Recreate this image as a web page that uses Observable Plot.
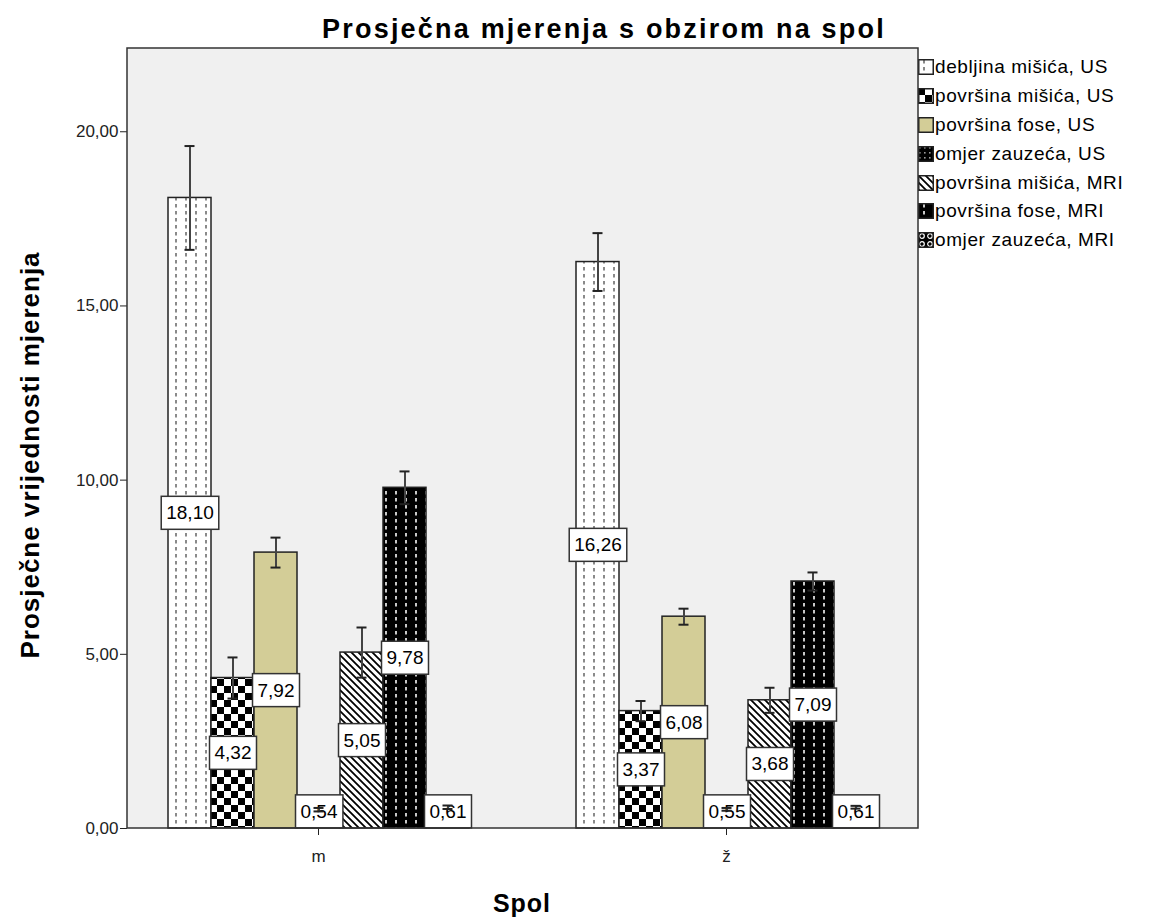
<!DOCTYPE html>
<html><head><meta charset="utf-8">
<script src="https://cdn.jsdelivr.net/npm/d3@7"></script>
<script src="https://cdn.jsdelivr.net/npm/@observablehq/plot@0.6"></script>
<style>
body{margin:0;background:#fff;font-family:"Liberation Sans",Arial,sans-serif;}
#wrap{position:relative;width:1157px;height:920px;overflow:hidden;background:#fff;}
#wrap > svg{position:absolute;left:0;top:0;}
#title{position:absolute;left:204px;width:800px;top:12px;line-height:34px;text-align:center;font-weight:bold;font-size:27px;letter-spacing:2.2px;color:#000;}
#ylab{position:absolute;left:-220px;width:500px;top:440px;height:30px;line-height:30px;text-align:center;transform:rotate(-90deg);font-weight:bold;font-size:26px;letter-spacing:1px;color:#000;}
#xlab{position:absolute;left:422px;width:200px;top:887px;line-height:32px;text-align:center;font-weight:bold;font-size:25px;letter-spacing:1px;color:#000;}
#legend{position:absolute;left:918px;top:53px;font-size:19px;letter-spacing:0.6px;color:#000;}
.lrow{display:flex;align-items:center;height:28.8px;}
.lrow svg{margin-right:1px;flex:none;}
</style></head><body>
<svg width="0" height="0" style="position:absolute">
<defs>
<pattern id="p0" patternUnits="userSpaceOnUse" width="10" height="7"><rect width="10" height="7" fill="#fff"/><rect x="5" y="1" width="2" height="3.5" fill="#8a8a8a"/></pattern>
<pattern id="p1" patternUnits="userSpaceOnUse" width="14" height="14"><rect width="14" height="14" fill="#fff"/><rect width="7" height="7" fill="#000"/><rect x="7" y="7" width="7" height="7" fill="#000"/></pattern>
<pattern id="p3" patternUnits="userSpaceOnUse" width="5" height="5"><rect width="5" height="5" fill="#000"/><rect x="1" y="1" width="1.6" height="1.6" fill="#999"/></pattern>
<pattern id="p4" patternUnits="userSpaceOnUse" width="7" height="7"><rect width="7" height="7" fill="#fff"/><path d="M0,0L7,7M-1,6L1,8M6,-1L8,1" stroke="#000" stroke-width="1.8"/></pattern>
<pattern id="p5" patternUnits="userSpaceOnUse" width="10" height="7"><rect width="10" height="7" fill="#000"/><rect x="5" y="1" width="2" height="3.5" fill="#c8c8c8"/></pattern>
<pattern id="p6" patternUnits="userSpaceOnUse" width="8" height="8"><rect width="8" height="8" fill="#000"/><circle cx="4" cy="4" r="2.3" fill="none" stroke="#fff" stroke-width="1.2"/></pattern>
</defs></svg>
<div id="wrap">
<div id="title">Prosječna mjerenja s obzirom na spol</div>
<div id="ylab">Prosječne vrijednosti mjerenja</div>
<div id="xlab">Spol</div>
<div id="legend"></div>
</div>
<script>
const groups = ["m", "ž"];
const series = ["debljina mišića, US", "površina mišića, US", "površina fose, US", "omjer zauzeća, US", "površina mišića, MRI", "površina fose, MRI", "omjer zauzeća, MRI"];
const meansM = [18.10, 4.32, 7.92, 0.54, 5.05, 9.78, 0.61];
const meansZ = [16.26, 3.37, 6.08, 0.55, 3.68, 7.09, 0.61];
const errM = [1.49, 0.59, 0.43, 0.05, 0.72, 0.47, 0.05];
const errZ = [0.83, 0.29, 0.23, 0.04, 0.36, 0.26, 0.04];
const yTicks = [0, 5, 10, 15, 20];
const fills = ["url(#p0)", "url(#p1)", "#d3cd97", "url(#p3)", "url(#p4)", "url(#p5)", "url(#p6)"];

const table = [];
groups.forEach((g, gi) => {
  const means = gi === 0 ? meansM : meansZ;
  const errs = gi === 0 ? errM : errZ;
  series.forEach((s, i) => table.push({group: g, series: s, mean: means[i], err: errs[i]}));
});
const fmt = d => d.toFixed(2).replace(".", ",");

const chart = Plot.plot({
  width: 1157, height: 920,
  marginTop: 48, marginRight: 239, marginBottom: 92, marginLeft: 127,
  style: {background: "transparent", fontFamily: '"Liberation Sans", Arial, sans-serif', color: "#222"},
  fx: {domain: groups, paddingInner: 0.0636, paddingOuter: 0, label: null},
  x: {domain: series, padding: 0, axis: null, insetLeft: 39, insetRight: 39},
  y: {domain: [0, 22.39], label: null},
  color: {type: "ordinal", domain: series, range: fills},
  marks: [
    Plot.axisY({ticks: yTicks, tickFormat: fmt, tickSize: 7, tickPadding: 2, fontSize: 17, label: null}),
    Plot.axisFx({anchor: "bottom", tickSize: 7, tickPadding: 14, fontSize: 17, label: null}),
    Plot.barY(table, {fx: "group", x: "series", y: "mean", fill: "series", stroke: "#222", strokeWidth: 1.5}),
    Plot.text(table, {fx: "group", x: "series", y: d => Math.max(d.mean / 2, 0.48), text: d => fmt(d.mean), fontSize: 19, fill: "#000", ariaDescription: "vlabels"}),
    Plot.ruleX(table, {fx: "group", x: "series", y1: d => d.mean - d.err, y2: d => d.mean + d.err, stroke: "#444", strokeWidth: 2}),
    Plot.tickY(table, {fx: "group", x: "series", y: d => d.mean + d.err, stroke: "#222", strokeWidth: 2, insetLeft: 16.5, insetRight: 16.5}),
    Plot.tickY(table, {fx: "group", x: "series", y: d => d.mean - d.err, stroke: "#222", strokeWidth: 2, insetLeft: 16.5, insetRight: 16.5})
  ]
});
document.getElementById("wrap").appendChild(chart);

const svg = d3.select(chart);
svg.insert("rect", ":first-child")
  .attr("x", 127).attr("y", 48).attr("width", 1157 - 239 - 127).attr("height", 920 - 92 - 48)
  .attr("fill", "#f0f0f0");
svg.append("rect")
  .attr("x", 127).attr("y", 48).attr("width", 1157 - 239 - 127).attr("height", 920 - 92 - 48)
  .attr("fill", "none").attr("stroke", "#333").attr("stroke-width", 1.5);

let labelTexts = svg.selectAll('g[aria-description="vlabels"] text');
if (labelTexts.empty()) labelTexts = svg.selectAll('g[aria-label="text"] text');
labelTexts.each(function () {
  const b = this.getBBox();
  const r = document.createElementNS("http://www.w3.org/2000/svg", "rect");
  r.setAttribute("x", b.x - 5);
  r.setAttribute("y", b.y + b.height / 2 - 16.5);
  r.setAttribute("width", b.width + 10);
  r.setAttribute("height", 33);
  r.setAttribute("fill", "#fff");
  r.setAttribute("stroke", "#333");
  r.setAttribute("stroke-width", 1.5);
  const t = this.getAttribute("transform");
  if (t) r.setAttribute("transform", t);
  this.parentNode.insertBefore(r, this);
});

const legend = d3.select("#legend");
series.forEach((s, i) => {
  const row = legend.append("div").attr("class", "lrow");
  row.append("svg").attr("width", 16).attr("height", 16)
    .append("rect").attr("x", 0.75).attr("y", 0.75).attr("width", 14.5).attr("height", 14.5)
    .attr("fill", fills[i]).attr("stroke", "#222").attr("stroke-width", 1.5);
  row.append("span").text(s);
});
</script>
</body></html>
